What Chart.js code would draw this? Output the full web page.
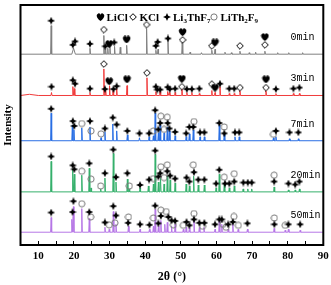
<!DOCTYPE html>
<html><head><meta charset="utf-8">
<script src="https://cdn.jsdelivr.net/npm/chart.js@4.4.1/dist/chart.umd.min.js"></script>
<style>html,body{margin:0;padding:0;background:#fff;}canvas{display:block;}</style>
</head><body>
<canvas id="c" width="331" height="285"></canvas>
<script>
// ---------- data ----------
const traceNames = ['0min', '3min', '7min', '20min', '50min'];
const traceColors = ['#808080', '#f03c3c', '#2a6fe4', '#36b06c', '#b677e6'];
const offsets = [194, 152, 106, 54, 13];          // vertical stacking of the patterns
const phaseNames = ['LiCl', 'KCl', 'Li3ThF7', 'LiTh2F9'];

// peaks: [2θ, intensity, optional half width]
const peaks0 = [[13.6,29],[19.9,6,0.5],[24.5,6],[28.4,19],[28.9,5],[29.5,6],[30.1,8],[31.4,8],[33.0,7],[34.8,9],
  [40.4,26],[43.0,4],[43.6,5],[46.4,13],[50.4,12],[52.6,2],[55.8,1.5],[58.7,4],[59.6,5],[62.4,2],[64.2,1.5],
  [66.6,3],[69.2,1.5],[71.0,2],[73.6,3],[77.2,1.5],[80.3,1.5],[84.2,1.5]];
const peaks1 = [[7.5,1.2,2.5],[13.7,3],[19.7,9],[20.1,7],[24.5,3],[28.4,27],[28.9,6],[30.0,10],[31.0,5],[32.0,7],[34.9,10],
  [40.5,18],[43.0,4],[44.2,4],[46.3,4],[46.8,3],[48.4,3],[50.3,10],[51.7,3],[53.1,3],[55.2,2],[58.7,5],[59.6,3],
  [61.0,9],[63.6,2],[65.0,2],[66.6,5],[73.9,5],[76.7,2],[81.6,2],[83.3,2]];
const peaks2 = [[13.6,28],[19.55,16],[20.0,11],[22.2,13],[24.5,14],[27.6,3],[28.7,9],[30.9,17],[32.0,10],[35.0,6],
  [38.4,3],[41.1,4],[42.3,5],[42.8,28],[43.7,8],[44.2,16],[45.3,8],[46.2,14],[46.8,10],[48.4,5],[51.5,4],[52.4,7],
  [53.5,11],[55.4,4],[56.6,4],[60.8,16],[62.2,7],[65.2,4],[66.4,4],[76.0,3],[76.7,4],[80.5,2],[83.0,2]];
const peaks3 = [[13.6,31],[19.65,23],[20.1,18],[22.2,17],[24.3,24],[24.8,4],[27.5,3],[28.7,14],[31.05,39],[31.8,10],
  [35.0,13],[35.5,3],[38.55,4],[40.9,6],[42.3,8],[42.8,38],[43.7,10],[44.3,14],[45.3,8],[46.2,16],[47.0,12],[48.4,9],
  [51.5,8],[52.4,6],[53.6,16],[54.9,7],[56.6,7],[59.9,4],[60.8,18],[62.2,8],[63.6,4],[65.0,6],[67.5,3],[68.8,3],
  [69.9,3],[76.2,5],[80.2,2],[82.1,2],[83.3,3]];
const peaks4 = [[13.6,15],[19.4,13],[19.85,26],[22.2,24],[24.3,14],[28.7,5],[29.9,3],[31.05,21],[31.8,8],[35.3,6],
  [38.55,3],[41.2,3],[42.3,6],[42.8,23],[43.7,6],[44.4,12],[45.5,8],[46.2,10],[47.4,6],[48.4,8],[50.7,3],[51.5,5],
  [52.4,4],[53.7,14],[55.2,5],[56.5,5],[59.6,3],[60.8,12],[61.5,8],[63.3,3],[64.6,8],[66.1,3],[68.7,3],[76.2,4],
  [79.3,2],[80.2,3],[83.5,2]];

// phase marks: [phase code, 2θ, height above the pattern baseline]
// h = LiCl, d = KCl, s = Li3ThF7, c = LiTh2F9
const marks0 = [['s',13.6,34],['s',19.7,9.5],['s',20.3,13],['s',24.5,10.5],['d',28.4,25],['s',28.8,8],['h',29.9,10.5],
  ['s',31.3,12],['h',34.8,15],['d',40.4,30],['s',43.0,8.5],['s',43.5,12.5],['s',46.4,16],['h',50.5,22.5],['d',50.5,14.5],
  ['d',58.7,8.5],['h',59.6,12],['d',66.6,8.5],['h',73.6,17.5],['d',73.6,9.5]];
const marks1 = [['s',13.7,9],['s',19.7,15.5],['s',20.3,12],['s',24.5,7],['d',28.4,32],['s',28.7,6.5],['h',29.9,14.5],
  ['s',31.1,6.5],['s',32.0,9.5],['h',34.9,16.5],['d',40.5,23],['s',43.0,9],['s',43.4,6],['s',44.2,6],['s',46.3,8.5],
  ['s',46.9,6.5],['s',48.4,7],['h',50.3,17],['d',50.3,9],['s',51.7,6.5],['s',53.1,6.5],['s',55.2,7],['d',58.7,11.5],
  ['h',59.6,8],['s',61.0,12],['s',63.6,7],['s',65.0,7],['d',66.6,8],['h',73.9,16.5],['d',73.9,8],['s',76.7,6.5],
  ['s',81.6,7],['s',83.3,8]];
const marks2 = [['s',13.6,32.5],['s',19.7,20],['s',20.1,15],['c',22.2,17.5],['s',24.5,20],['c',24.8,10],['c',27.6,7],
  ['s',28.7,12.5],['s',30.9,23.5],['s',32.0,16.5],['s',35.0,10],['s',38.4,7.5],['s',41.1,7.5],['c',42.3,10],['s',42.8,31],
  ['c',44.4,25],['c',46.2,24],['s',44.2,18],['s',46.3,18],['s',43.7,11.5],['c',45.3,11.5],['s',46.8,12.5],['s',48.4,9],
  ['s',51.5,7.5],['s',52.4,14],['c',53.7,19.5],['s',53.5,14],['s',55.4,8.5],['s',56.6,8.5],['s',60.8,18],['c',62.2,14],
  ['s',62.2,7.5],['s',65.2,8.5],['s',66.4,8.5],['c',76.0,6.5],['s',76.7,10],['s',80.5,8.5],['s',83.0,8.5]];
const marks3 = [['s',13.6,36],['s',19.65,27],['s',20.1,23],['c',22.2,21],['s',24.3,29],['c',24.8,13],['c',27.5,6],
  ['s',28.7,19],['s',31.05,43],['s',31.8,15],['s',35.0,19],['c',35.55,6],['s',38.55,7],['s',41.1,12.5],['c',42.3,13.5],
  ['s',42.8,42],['c',44.4,25.5],['c',46.2,27.5],['s',43.7,15.5],['s',44.2,19],['s',46.2,21],['s',47.0,16.5],['c',45.3,14.5],
  ['s',48.4,13.5],['s',51.6,14.5],['s',52.4,10.5],['c',53.5,27.5],['s',53.7,20],['s',54.9,12.5],['s',56.6,12.5],
  ['s',59.9,8.5],['s',60.8,22.5],['c',62.2,15],['s',62.4,8.5],['s',63.6,8.5],['c',65.0,18.5],['s',65.0,10.5],
  ['s',67.55,9.5],['s',68.8,9.5],['s',69.9,9.5],['c',76.2,17],['s',76.2,10.5],['s',80.2,8.5],['s',82.1,7.5],['s',83.3,10.5]];
const marks4 = [['s',13.6,20],['s',19.85,31.5],['s',19.6,20.5],['c',22.2,29],['s',24.3,20.5],['c',24.7,15.5],['s',28.7,10],
  ['c',29.9,7.5],['s',31.05,26.5],['s',31.8,17],['c',31.5,9.5],['c',35.3,15.5],['s',35.2,9.5],['s',38.55,8],['s',41.2,7.5],
  ['c',42.3,14.5],['s',42.8,27],['c',44.4,22.5],['c',45.9,21],['s',44.4,16.5],['s',43.7,9],['s',46.5,15.5],['s',47.4,12],
  ['s',48.4,11.5],['c',47.9,7.5],['c',50.7,7],['s',51.6,10.5],['s',52.4,7],['c',53.7,19],['s',53.7,13],['s',55.2,9.5],
  ['s',56.6,9.5],['c',56.1,6],['s',59.6,8],['s',60.8,13],['s',61.5,13],['c',61.8,8],['c',62.7,5],['s',63.3,8],
  ['s',64.6,10.5],['c',64.9,16],['c',66.15,7],['s',68.7,9],['c',76.25,14.5],['s',76.25,8],['c',79.3,7],['s',80.2,8],
  ['s',83.5,8]];

const xTickLabels = [10, 20, 30, 40, 50, 60, 70, 80, 90];
const allPeaks = [peaks0, peaks1, peaks2, peaks3, peaks4];
const allMarks = [marks0, marks1, marks2, marks3, marks4];

// ---------- symbols ----------
function mk(w, h, draw) { const c = document.createElement('canvas'); c.width = w; c.height = h; draw(c.getContext('2d'), w, h); return c; }
const symHeart = mk(9, 8, (g, w, h) => {
  g.fillStyle = '#000'; g.beginPath();
  g.moveTo(w/2, h);
  g.bezierCurveTo(w*0.05, h*0.62, -w*0.05, h*0.2, w*0.26, h*0.06);
  g.bezierCurveTo(w*0.4, 0, w*0.5, h*0.15, w/2, h*0.28);
  g.bezierCurveTo(w*0.5, h*0.15, w*0.6, 0, w*0.74, h*0.06);
  g.bezierCurveTo(w*1.05, h*0.2, w*0.95, h*0.62, w/2, h);
  g.fill();
});
const symStar = mk(8, 8, (g) => {
  g.fillStyle = '#000'; g.beginPath();
  const c = 4, r = 4, i = 1.2;
  g.moveTo(c, c-r); g.lineTo(c+i, c-i); g.lineTo(c+r, c); g.lineTo(c+i, c+i);
  g.lineTo(c, c+r); g.lineTo(c-i, c+i); g.lineTo(c-r, c); g.lineTo(c-i, c-i); g.closePath(); g.fill();
});
const symDiamond = mk(8, 8, (g) => {
  g.fillStyle = '#fff'; g.strokeStyle = '#000'; g.lineWidth = 1; g.beginPath();
  g.moveTo(4, 0.7); g.lineTo(7.3, 4); g.lineTo(4, 7.3); g.lineTo(0.7, 4); g.closePath(); g.fill(); g.stroke();
});
const symCircle = mk(8, 8, (g) => {
  g.strokeStyle = '#7a7a7a'; g.lineWidth = 1; g.beginPath(); g.arc(4, 4, 3.1, 0, Math.PI*2); g.stroke();
});
const phaseCodes = ['h', 'd', 's', 'c'];
const phaseSymbols = [symHeart, symDiamond, symStar, symCircle];

// ---------- datasets ----------
function buildTrace(peaks, off) {
  const pts = [{x: 5, y: off}];
  peaks.slice().sort((a, b) => a[0] - b[0]).forEach(p => {
    const hw = p[2] || 0.15;
    pts.push({x: p[0] - hw, y: off}, {x: p[0], y: off + p[1]}, {x: p[0] + hw, y: off});
  });
  pts.push({x: 90, y: off});
  return pts;
}
const datasets = [];
allPeaks.forEach((pk, i) => datasets.push({
  type: 'line', label: traceNames[i], data: buildTrace(pk, offsets[i]),
  borderColor: traceColors[i], borderWidth: 1, pointRadius: 0, tension: 0, order: 2
}));
phaseCodes.forEach((code, k) => {
  const pts = [];
  allMarks.forEach((ms, i) => ms.forEach(m => { if (m[0] === code) pts.push({x: m[1], y: offsets[i] + m[2]}); }));
  datasets.push({type: 'scatter', label: phaseNames[k], data: pts, pointStyle: phaseSymbols[k], pointRadius: 4, order: 1});
});

// ---------- overlay: frame, legend, pattern names ----------
const legendItems = [
  {sym: symHeart, sx: 100, tx: 106.5, parts: [['LiCl', 0]]},
  {sym: symDiamond, sx: 133, tx: 139.5, parts: [['KCl', 0]]},
  {sym: symStar, sx: 167, tx: 173, parts: [['Li', 0], ['3', 1], ['ThF', 0], ['7', 1]]},
  {sym: symCircle, sx: 214, tx: 220.5, parts: [['LiTh', 0], ['2', 1], ['F', 0], ['9', 1]]}
];
const overlay = {
  id: 'overlay',
  afterDraw(chart) {
    const {ctx, chartArea: a, scales: {x, y}} = chart;
    ctx.save();
    ctx.lineWidth = 2; ctx.strokeStyle = '#000';
    ctx.strokeRect(a.left, a.top, a.right - a.left, a.bottom - a.top);
    ctx.fillStyle = '#000';
    ctx.font = '10px "Liberation Mono"'; ctx.textAlign = 'left'; ctx.textBaseline = 'middle';
    traceNames.forEach((n, i) => ctx.fillText(n, x.getPixelForValue(80.8), y.getPixelForValue(offsets[i] + 17)));
    const cy = a.top + 11.7;
    ctx.textBaseline = 'alphabetic';
    legendItems.forEach(it => {
      ctx.drawImage(it.sym, Math.round(it.sx - it.sym.width/2), Math.round(cy - it.sym.height/2));
      let tx = it.tx;
      it.parts.forEach(([t, sub]) => {
        ctx.font = sub ? 'bold 7px "Liberation Serif"' : 'bold 11px "Liberation Serif"';
        ctx.fillText(t, tx, sub ? cy + 6 : cy + 4);
        tx += ctx.measureText(t).width;
      });
    });
    ctx.restore();
  }
};

new Chart(document.getElementById('c'), {
  data: {datasets},
  options: {
    responsive: false, animation: false,
    layout: {padding: {left: 0, right: 7.7, top: 1, bottom: 0}},
    plugins: {legend: {display: false}, tooltip: {enabled: false}},
    scales: {
      x: {
        type: 'linear', min: 5, max: 90,
        border: {display: false},
        grid: {drawOnChartArea: false, tickLength: -4, tickColor: '#000', tickWidth: 1},
        ticks: {stepSize: 5, autoSkip: false, maxRotation: 0, padding: 9.5, color: '#000',
          font: {family: 'Liberation Serif', weight: 'bold', size: 11, lineHeight: 1},
          callback: v => xTickLabels.includes(v) ? String(v) : ''},
        title: {display: true, text: '2θ (°)', color: '#000', padding: {top: 0, bottom: 2},
          font: {family: 'Liberation Serif', weight: 'bold', size: 12, lineHeight: 1}},
        afterFit: s => { s.paddingLeft = 0; s.paddingRight = 0; }
      },
      y: {
        type: 'linear', min: 0, max: 244,
        border: {display: false}, grid: {display: false, drawTicks: false},
        ticks: {display: false},
        title: {display: true, text: 'Intensity', color: '#000', padding: {top: 2, bottom: 5.3},
          font: {family: 'Liberation Serif', weight: 'bold', size: 11}}
      }
    }
  },
  plugins: [overlay]
});
</script>
</body></html>
